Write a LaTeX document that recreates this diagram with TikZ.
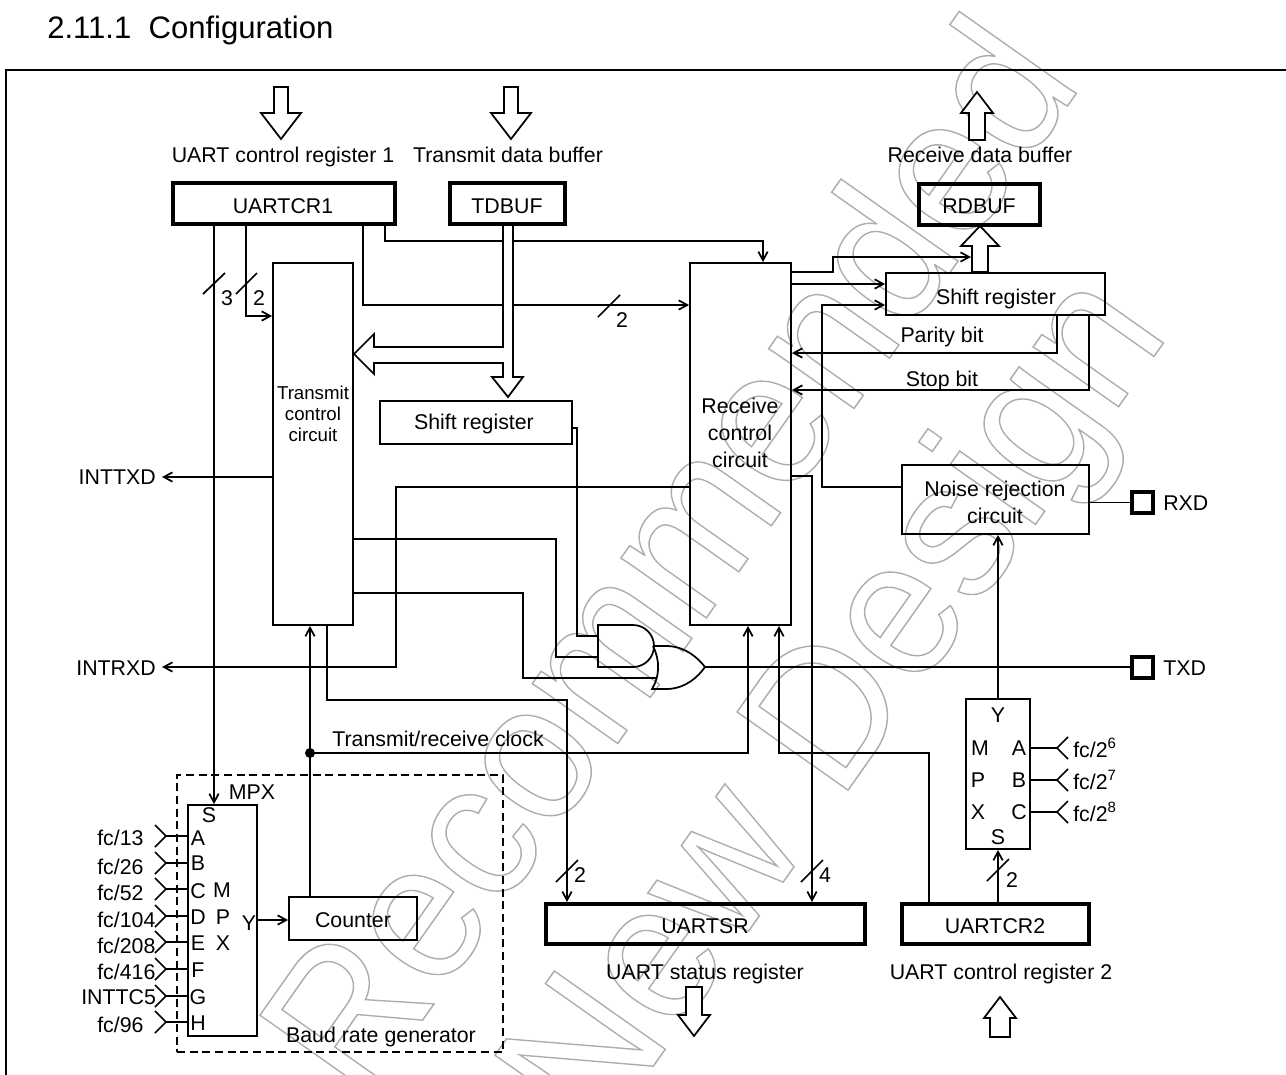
\documentclass[tikz,border=0pt]{standalone}
\usepackage{fontspec}
\setmainfont{Liberation Sans}
\usetikzlibrary{arrows.meta}
\newcommand\hollowtext[1]{\special{pdf:code 1 Tr 0.68 G 1.1 w}#1\special{pdf:code 0 Tr 0 G}}
\begin{document}
\begin{tikzpicture}[x=0.75pt,y=-0.75pt,line cap=butt,>={Straight Barb[length=6.5pt,width=7pt]},
  sig/.style={line width=1.3pt},
  fat/.style={line width=1.3pt,fill=white},
  block/.style={draw,line width=1.3pt,inner sep=0pt},
  regbox/.style={draw,line width=3pt,inner sep=0pt,minimum height=30.75pt},
  pad/.style={draw,line width=3pt,inner sep=0pt,minimum size=15.75pt},
  lbl/.style={inner sep=0pt,font=\fontsize{16}{20.25}\selectfont},
  wmark/.style={anchor=base west,inner sep=0pt,rotate=54.8,xscale=0.935,transform shape,font=\fontsize{148}{148}\selectfont}]
  \useasboundingbox (0,0) rectangle (1286,1075);
  \node[wmark] (wmone) at (362,1106) {\hollowtext{Recommended}};
  \node[wmark] (wmtwo) at (597,1146) {\hollowtext{New Design}};
  \node[lbl,anchor=west,font=\fontsize{23.3}{26}\selectfont] (title) at (47,30) {2.11.1\ \ Configuration};
  \draw[line width=1.5pt] (1286,70) -- (6,70) -- (6,1075);

  \node[regbox,minimum width=166.5pt] (cr1) at (284,203.5) {};
  \node[regbox,minimum width=86.25pt] (tdbuf) at (507.5,203.5) {};
  \node[regbox,minimum width=90.75pt] (rdbuf) at (979.5,204) {};
  \node[regbox,minimum width=239.25pt,minimum height=30pt] (uartsr) at (705.5,924) {};
  \node[regbox,minimum width=140.25pt,minimum height=30pt] (cr2) at (995.5,924) {};
  \node[block,minimum width=60pt,minimum height=271.5pt] (txctl) at (313,444) {};
  \node[block,minimum width=75.75pt,minimum height=271.5pt] (rxctl) at (740.5,444) {};
  \node[block,minimum width=144pt,minimum height=32.25pt] (txsreg) at (476,422.5) {};
  \node[block,minimum width=164.25pt,minimum height=31.5pt] (rxsreg) at (995.5,294) {};
  \node[block,minimum width=140.25pt,minimum height=51.75pt] (noise) at (995.5,499.5) {};
  \node[block,minimum width=48pt,minimum height=112.5pt] (mpxb) at (998,774) {};
  \node[block,minimum width=51.75pt,minimum height=173.25pt] (mpxa) at (222.5,920.5) {};
  \node[block,minimum width=96pt,minimum height=32.25pt] (counter) at (353,918.5) {};
  \node[draw,line width=1.3pt,dash pattern=on 6pt off 3.5pt,inner sep=0pt,minimum width=244.5pt,minimum height=207.75pt] (baud) at (340,913.5) {};
  \node[pad] (rxd) at (1142.5,502.5) {};
  \node[pad] (txd) at (1142.5,667) {};

  \coordinate (inttxd) at (162,477);
  \coordinate (intrxd) at (162,667);
  \coordinate (clk) at (310,753);
  \coordinate (andone) at (598,636);
  \coordinate (andtwo) at (598,657);
  \coordinate (orin) at (657,678);
  \coordinate (orout) at (705,667);

  \draw[sig,->] (cr1.south -| 214,0) -- (mpxa.north -| 214,0);
  \draw[sig,->] (cr1.south -| 246,0) |- (txctl.west |- 0,316);
  \draw[sig,->] (cr1.south -| 363,0) |- (rxctl.west |- 0,305);
  \draw[sig,->] (cr1.south -| 385,0) |- (763,241) -- (rxctl.north -| 763,0);
  \draw[sig] (203,294) -- (225,273);
  \draw[sig] (236,294) -- (257,273);
  \draw[sig] (598,317) -- (620,295);
  \draw[sig,->] (txctl.west |- 0,477) -- (inttxd);
  \draw[sig,->] (rxctl.west |- 0,487) -| (396,667) -- (intrxd);
  \draw[sig] (txsreg.east |- 0,428) -| (577,636) -- (andone);
  \draw[sig] (txctl.east |- 0,539) -| (556,657) -- (andtwo);
  \draw[sig] (txctl.east |- 0,593) -| (523,678) -- (orin);
  \draw[sig,->] (txctl.south -| 327,0) |- (567,700) -- (uartsr.north -| 567,0);
  \draw[sig] (556,882) -- (578,860);
  \draw[sig,->] (counter.north -| 310,0) -- (txctl.south -| 310,0);
  \fill (clk) circle (3.75pt);
  \draw[sig,->] (clk) -| (rxctl.south -| 748,0);
  \draw[sig,->] (cr2.north -| 929,0) |- (779,753) -- (rxctl.south -| 779,0);
  \draw[sig,->] (rxctl.east |- 0,476) -| (uartsr.north -| 812,0);
  \draw[sig] (801,882) -- (823,860);
  \draw[sig,->] (rxctl.east |- 0,272) -| (833,257) -- (971,257);
  \draw[sig,->] (rxctl.east |- 0,284) -- (rxsreg.west |- 0,284);
  \draw[sig,->] (noise.west |- 0,487) -| (822,305) -- (rxsreg.west |- 0,305);
  \draw[sig,->] (rxsreg.south -| 1057,0) |- (rxctl.east |- 0,353);
  \draw[sig,->] (rxsreg.south -| 1089,0) |- (rxctl.east |- 0,390);
  \draw[sig] (noise.east |- rxd) -- (rxd);
  \draw[sig] (orout) -- (txd);
  \draw[sig,->] (mpxb.north) -- (noise.south -| mpxb.north);
  \draw[sig,->] (cr2.north -| mpxb.south) -- (mpxb.south);
  \draw[sig] (987,881) -- (1009,859);
  \draw[sig,->] (mpxa.east |- 0,920) -- (counter.west |- 0,920);

  \draw[sig] (598,625) -- (633,625) arc (-90:90:21) -- (598,667) -- cycle;
  \draw[sig] (653,646) -- (668,646) .. controls (686,647) and (698,658) .. (705,667) .. controls (698,677) and (686,688) .. (668,689) -- (652,689) .. controls (660,676) and (660,660) .. (653,646);

  \draw[fat] (274,87) -- (288,87) -- (288,113) -- (301,113) -- (281,139) -- (261,113) -- (274,113) -- cycle;
  \draw[fat] (504,87) -- (518,87) -- (518,113) -- (531,113) -- (511,139) -- (491,113) -- (504,113) -- cycle;
  \draw[fat] (969,140) -- (985,140) -- (985,113) -- (993,113) -- (977,92) -- (961,113) -- (969,113) -- cycle;
  \draw[fat] (972,272) -- (988,272) -- (988,246) -- (999,246) -- (980,226) -- (961,246) -- (972,246) -- cycle;
  \draw[fat] (686,987) -- (702,987) -- (702,1015) -- (710,1015) -- (694,1036) -- (678,1015) -- (686,1015) -- cycle;
  \draw[fat] (990,1037) -- (1010,1037) -- (1010,1018) -- (1016,1018) -- (1000,997) -- (984,1018) -- (990,1018) -- cycle;
  \draw[fat] (503,225) -- (503,347) -- (374,347) -- (374,334) -- (354,354) -- (374,374) -- (374,363) -- (503,363) -- (503,377) -- (492,377) -- (508,397) -- (523,377) -- (513,377) -- (513,225) -- cycle;

  \foreach \y/\sel/\txt/\px/\ty/\sy in {836/A/fc\slash13/97/838/838,863/B/fc\slash26/97/867/863,889/C/fc\slash52/97/893/891,916/D/fc\slash104/97/920/917,942/E/fc\slash208/97/946/943,969/F/fc\slash416/97/972/970,996/G/INTTC5/81/997/997,1022/H/fc\slash96/97/1025/1023} {
    \draw[sig] (mpxa.west |- 0,\y) -- (166,\y) -- ++(-11,-11) (166,\y) -- ++(-11,11);
    \node[lbl,anchor=west] (in\sel) at (\px,\ty) {\txt};
    \node[lbl] (sel\sel) at (198,\sy) {\sel};
  }
  \foreach \y/\sel/\exp in {748/A/6,780/B/7,812/C/8} {
    \draw[sig] (mpxb.east |- 0,\y) -- (1057,\y) -- ++(11,-11) (1057,\y) -- ++(11,11);
    \node[lbl,anchor=west] (fc\sel) at (1073,\y) {fc/2\textsuperscript{\exp}};
    \node[lbl] (sl\sel) at (1019,\y) {\sel};
  }
  \node[lbl] (cr1name) at (283,206) {UARTCR1};
  \node[lbl] (tdname) at (507,206) {TDBUF};
  \node[lbl] (rdname) at (979,206) {RDBUF};
  \node[lbl] (srname) at (705,926) {UARTSR};
  \node[lbl] (cr2name) at (995,926) {UARTCR2};
  \node[lbl] (txsregtxt) at (474,423.5) {Shift register};
  \node[lbl] (rxsregtxt) at (996,299) {Shift register};
  \node[lbl] (counttxt) at (353,920.5) {Counter};
  \node[lbl] (cr1txt) at (283,157) {UART control register 1};
  \node[lbl] (tdtxt) at (508,155) {Transmit data buffer};
  \node[lbl] (rdtxt) at (980,155) {Receive data buffer};
  \node[lbl] (srtxt) at (705,974) {UART status register};
  \node[lbl] (cr2txt) at (1001,974) {UART control register 2};
  \node[lbl] (parity) at (942,337) {Parity bit};
  \node[lbl] (stop) at (942,381) {Stop bit};
  \node[lbl,align=center,font=\fontsize{14}{15.8}\selectfont] (txtxt) at (313,414) {Transmit\\control\\circuit};
  \node[lbl,align=center] (rxtxt) at (740,433) {Receive\\control\\circuit};
  \node[lbl,align=center] (nstxt) at (995,502.5) {Noise rejection\\circuit};
  \node[lbl,anchor=east] (inttxdtxt) at (156,477) {INTTXD};
  \node[lbl,anchor=east] (intrxdtxt) at (156,668) {INTRXD};
  \node[lbl,anchor=west] (rxdtxt) at (1163,503) {RXD};
  \node[lbl,anchor=west] (txdtxt) at (1163,668) {TXD};
  \node[lbl] (clktxt) at (438,739) {Transmit/receive clock};
  \node[lbl] (baudtxt) at (381,1037) {Baud rate generator};
  \node[lbl] (mpxname) at (252,792) {MPX};
  \node[lbl] (mpxs) at (209,815) {S};
  \node[lbl] (mpxm) at (222,890) {M};
  \node[lbl] (mpxp) at (223,917) {P};
  \node[lbl] (mpxx) at (223,943) {X};
  \node[lbl] (mpxy) at (249,923) {Y};
  \node[lbl] (mbm) at (980,748) {M};
  \node[lbl] (mbp) at (978,780) {P};
  \node[lbl] (mbx) at (978,812) {X};
  \node[lbl] (mby) at (998,715) {Y};
  \node[lbl] (mbs) at (998,837) {S};
  \node[lbl] (nthree) at (227,298) {3};
  \node[lbl] (ntwo) at (259,298) {2};
  \node[lbl] (nrx) at (622,320) {2};
  \node[lbl] (nsr) at (580,875) {2};
  \node[lbl] (nfour) at (825,875) {4};
  \node[lbl] (nsel) at (1012,880) {2};
\end{tikzpicture}
\end{document}
